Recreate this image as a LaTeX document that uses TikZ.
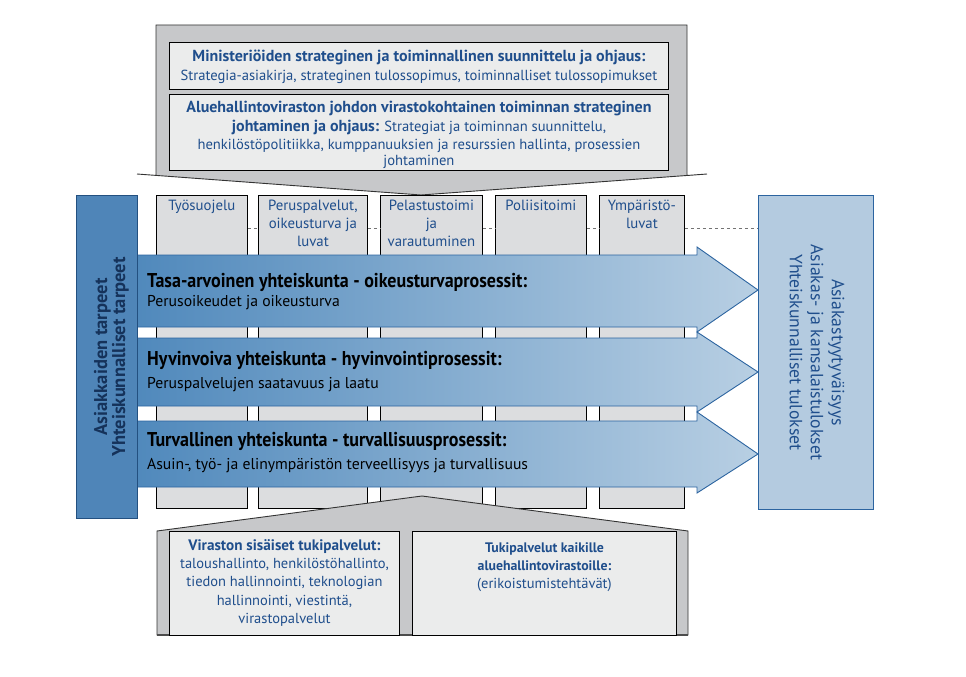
\documentclass[tikz,border=0pt]{standalone}
\usepackage{fontspec}
\usepackage{graphicx}
\setmainfont{PT Sans}
\definecolor{txtblue}{HTML}{1F4E8C}
\definecolor{navy}{HTML}{15325A}
\definecolor{grayshape}{HTML}{C7C8CA}
\definecolor{innerbox}{HTML}{EBECEC}
\definecolor{colfill}{HTML}{DCDDDF}
\definecolor{arrowline}{HTML}{2C64A0}
\definecolor{leftfill}{HTML}{4F85B8}
\definecolor{rightfill}{HTML}{B4CBE0}
\definecolor{shadeL}{HTML}{5089BC}
\definecolor{shadeR}{HTML}{B8CFE3}
\newcommand{\bt}[1]{{\fontsize{16}{19}\selectfont\bfseries #1}}
\begin{document}
\begin{tikzpicture}[x=1pt,y=-1pt,
  bigshape/.style={fill=grayshape,draw=black!80,line width=0.9pt,line join=miter},
  inbox/.style={fill=innerbox,draw=black,line width=0.9pt,anchor=north west,inner sep=0pt},
  colbox/.style={fill=colfill,draw=black,line width=0.8pt,anchor=north west,inner sep=0pt,minimum height=313},
  coltext/.style={anchor=north,align=center,text=txtblue,font=\fontsize{14.8}{18}\selectfont,inner sep=0pt},
  boxtext/.style={align=center,text=txtblue,font=\fontsize{14.6}{19}\selectfont,inner sep=0pt},
  procarrow/.style={left color=shadeL,right color=shadeR,draw=arrowline,line width=0.9pt,line join=miter},
  ptitle/.style={anchor=west,inner sep=0pt,font=\fontsize{20}{22}\selectfont\bfseries},
  psub/.style={anchor=west,inner sep=0pt,font=\fontsize{15.7}{18}\selectfont},
  dashconn/.style={draw=black!55,dashed,line width=0.6pt}
]
\useasboundingbox (0,0) rectangle (966,677);

% top gray arrow
\draw[bigshape] (156,25) -- (687,25) -- (687,175.5) -- (707,174) -- (421,195) -- (137,174) -- (156,175.4) -- cycle;
\node[inbox,minimum width=499,minimum height=47] (t1) at (169,42) {};
\node[inbox,minimum width=499,minimum height=76] (t2) at (169,94) {};
\node[boxtext] (t1txt) at ([yshift=-1]t1.center) {\bt{Ministeriöiden strateginen ja toiminnallinen suunnittelu ja ohjaus:}\\Strategia-asiakirja, strateginen tulossopimus, toiminnalliset tulossopimukset};
\node[boxtext] (t2txt) at ([yshift=-2]t2.center) {\bt{Aluehallintoviraston johdon virastokohtainen toiminnan strateginen}\\\bt{johtaminen ja ohjaus:} Strategiat ja toiminnan suunnittelu,\\[-1pt]henkilöstöpolitiikka, kumppanuuksien ja resurssien hallinta, prosessien\\[-3pt]johtaminen};

% columns
\node[colbox,minimum width=91] (c1) at (156,195) {};
\node[colbox,minimum width=109] (c2) at (258,195) {};
\node[colbox,minimum width=102] (c3) at (380,195) {};
\node[colbox,minimum width=91] (c4) at (495,195) {};
\node[colbox,minimum width=85] (c5) at (599,195) {};
\node[coltext] (c1t) at ([yshift=-5]c1.north) {Työsuojelu};
\node[coltext] (c2t) at ([yshift=-5]c2.north) {Peruspalvelut,\\oikeusturva ja\\luvat};
\node[coltext] (c3t) at ([yshift=-5]c3.north) {Pelastustoimi\\ja\\varautuminen};
\node[coltext] (c4t) at ([yshift=-5]c4.north) {Poliisitoimi};
\node[coltext] (c5t) at ([yshift=-5]c5.north) {Ympäristö-\\luvat};

% side boxes
\node[fill=rightfill,draw=arrowline,line width=0.9pt,anchor=north west,minimum width=115,minimum height=314,inner sep=0pt] (rb) at (758,195) {};
\node[rotate=-90,align=center,text=txtblue,font=\fontsize{17.7}{21}\selectfont,inner sep=0pt] (rbt) at ([xshift=1]rb.center) {Asiakastyytyväisyys\\Asiakas- ja kansalaistulokset\\Yhteiskunnalliset tulokset};

\coordinate (dy) at (0,228);
\draw[dashconn] (c1.east |- dy) -- (c2.west |- dy);
\draw[dashconn] (c2.east |- dy) -- (c3.west |- dy);
\draw[dashconn] (c3.east |- dy) -- (c4.west |- dy);
\draw[dashconn] (c4.east |- dy) -- (c5.west |- dy);
\draw[dashconn] (c5.east |- dy) -- (rb.west |- dy);

% process arrows
\draw[procarrow] (137,255) -- (697,255) -- (697,247) -- (758,290) -- (697,332) -- (697,327) -- (137,327) -- cycle;
\draw[procarrow] (137,338) -- (697,338) -- (697,332) -- (758,372) -- (697,412) -- (697,406) -- (137,406) -- cycle;
\draw[procarrow] (137,421) -- (697,421) -- (697,412) -- (758,454) -- (697,493) -- (697,487) -- (137,487) -- cycle;
\node[ptitle] (a1) at (147,282) {\scalebox{0.9}[1]{Tasa-arvoinen yhteiskunta - oikeusturvaprosessit:}};
\node[psub] (a1s) at (147,303) {Perusoikeudet ja oikeusturva};
\node[ptitle] (a2) at (147,360) {\scalebox{0.9}[1]{Hyvinvoiva yhteiskunta - hyvinvointiprosessit:}};
\node[psub] (a2s) at (147,385) {Peruspalvelujen saatavuus ja laatu};
\node[ptitle] (a3) at (147,441) {\scalebox{0.9}[1]{Turvallinen yhteiskunta - turvallisuusprosessit:}};
\node[psub] (a3s) at (147,466) {Asuin-, työ- ja elinympäristön terveellisyys ja turvallisuus};

% left box
\node[fill=leftfill,draw=arrowline!80!black,line width=0.9pt,anchor=north west,minimum width=61,minimum height=323,inner sep=0pt] (lb) at (76,195) {};
\node[rotate=90,align=center,text=navy,font=\fontsize{18.5}{18}\selectfont\bfseries,inner sep=0pt] (lbt) at ([xshift=4.5]lb.center) {Asiakkaiden tarpeet\\Yhteiskunnalliset tarpeet};

% bottom gray shape
\draw[bigshape] (157,635) -- (157,531) -- (422,496) -- (688,531) -- (688,635) -- cycle;
\draw[black!70,line width=1.6pt] (157,635) -- (688,635);
\node[inbox,minimum width=230,minimum height=104] (b1) at (169,531) {};
\node[inbox,minimum width=264,minimum height=104] (b2) at (412,531) {};
\node[boxtext,anchor=north,font=\fontsize{14.5}{18.3}\selectfont] (b1t) at ([yshift=-8]b1.north) {{\fontsize{15.2}{18.3}\selectfont\bfseries Viraston sisäiset tukipalvelut:}\\taloushallinto, henkilöstöhallinto,\\tiedon hallinnointi, teknologian\\hallinnointi, viestintä,\\virastopalvelut};
\node[boxtext,anchor=north,font=\fontsize{14.5}{18.3}\selectfont] (b2t) at ([yshift=-11]b2.north) {{\fontsize{13.8}{18.3}\selectfont\bfseries Tukipalvelut kaikille}\\{\fontsize{13.8}{18.3}\selectfont\bfseries aluehallintovirastoille:}\\(erikoistumistehtävät)};
\end{tikzpicture}
\end{document}
